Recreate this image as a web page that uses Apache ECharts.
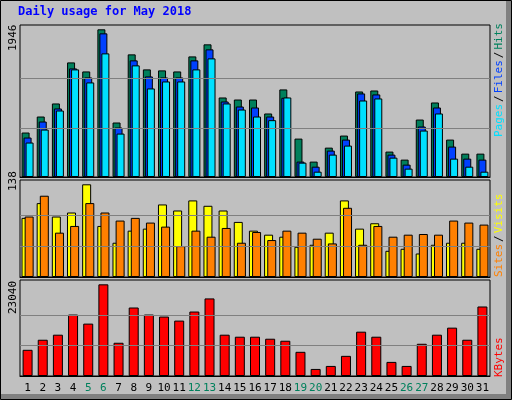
<!DOCTYPE html>
<html>
<head>
<meta charset="utf-8">
<script src="https://cdn.jsdelivr.net/npm/echarts@6/dist/echarts.min.js"></script>
<style>
  html, body { margin: 0; padding: 0; background: #c0c0c0; }
  #chart { width: 512px; height: 400px; }
</style>
</head>
<body>
<div id="chart"></div>
<script>
// days of the month, weekend days drawn green
var days = [];
for (var d = 1; d <= 31; d++) days.push(String(d));
var weekend = ['5', '6', '12', '13', '19', '20', '26', '27'];

var hits = [586, 797, 969, 1510, 1391, 1946, 718, 1616, 1418, 1405, 1391, 1589, 1748, 1048, 1021, 1021,
            837, 1154, 506, 203, 387, 546, 1127, 1140, 335, 229, 757, 982, 493, 308, 308];
var files = [520, 731, 903, 1431, 1312, 1893, 652, 1537, 1325, 1312, 1312, 1537, 1682, 995, 929, 916,
             797, 1044, 203, 136, 348, 493, 1101, 1088, 295, 163, 665, 916, 401, 242, 229];
var pages = [454, 625, 876, 1418, 1246, 1629, 572, 1471, 1167, 1259, 1259, 1418, 1563, 969, 889, 797,
             749, 1048, 189, 70, 295, 414, 1008, 1035, 255, 110, 612, 837, 242, 136, 70];
var visits = [88, 110, 90, 96, 138, 76, 51, 69, 72, 108, 99, 114, 106, 99, 82, 69,
              63, 60, 45, 48, 66, 114, 72, 80, 39, 42, 35, 48, 51, 51, 42];
var sites = [90, 121, 66, 76, 110, 96, 84, 88, 81, 75, 46, 69, 60, 73, 51, 67,
             55, 69, 66, 57, 50, 103, 48, 76, 60, 63, 64, 63, 84, 81, 78];
var kbytes = [6583, 9115, 10381, 15445, 13166, 23040, 8355, 17217, 15445, 14938, 13925, 16204, 19496, 10381, 9875, 9875,
              9368, 8862, 6077, 1772, 2532, 5064, 11140, 9875, 3545, 2532, 8102, 10381, 12153, 9115, 17470];

var maxHits = 1946, maxVisits = 138, maxKB = 23040;
var FONT = 'DejaVu Sans Mono';

function gridLines(max) {
    return {
        silent: true, symbol: 'none', label: { show: false },
        lineStyle: { color: '#808080', type: 'solid', width: 1 },
        data: [{ yAxis: max / 3 }, { yAxis: max * 2 / 3 }]
    };
}
function bar(name, data, color, xi, w, gap, extra) {
    var s = {
        name: name, type: 'bar', data: data, xAxisIndex: xi, yAxisIndex: xi,
        barWidth: w, barGap: gap, animation: false,
        itemStyle: { color: color, borderColor: '#000', borderWidth: 1 }
    };
    if (extra) s.markLine = extra;
    return s;
}

var chart = echarts.init(document.getElementById('chart'));
var xBase = { type: 'category', data: days, axisTick: { show: false },
              axisLine: { lineStyle: { color: '#000' } }, axisLabel: { show: false } };
var yBase = { type: 'value', min: 0, show: false, splitLine: { show: false } };

chart.setOption({
    backgroundColor: '#c0c0c0',
    grid: [
        { left: 20, right: 22, top: 25, height: 152, show: true, borderColor: '#000', backgroundColor: '#c0c0c0' },
        { left: 20, right: 22, top: 180, height: 97, show: true, borderColor: '#000', backgroundColor: '#c0c0c0' },
        { left: 20, right: 22, top: 280, height: 96, show: true, borderColor: '#000', backgroundColor: '#c0c0c0' }
    ],
    xAxis: [
        Object.assign({ gridIndex: 0 }, xBase),
        Object.assign({ gridIndex: 1 }, xBase),
        Object.assign({ gridIndex: 2 }, xBase, {
            axisLabel: {
                show: true, interval: 0, margin: 7, fontFamily: FONT, fontSize: 11,
                color: function (v) { return weekend.indexOf(v) >= 0 ? '#00805c' : '#000'; }
            }
        })
    ],
    yAxis: [
        Object.assign({ gridIndex: 0, max: 2003 }, yBase),
        Object.assign({ gridIndex: 1, max: 144.4 }, yBase),
        Object.assign({ gridIndex: 2, max: 24130 }, yBase)
    ],
    series: [
        bar('Hits', hits, '#00805c', 0, 8, '-75%', gridLines(maxHits)),
        bar('Files', files, '#0040ff', 0, 8, '-75%'),
        bar('Pages', pages, '#00e0ff', 0, 8, '-75%'),
        bar('Visits', visits, '#ffff00', 1, 9, '-65%', gridLines(maxVisits)),
        bar('Sites', sites, '#ff8000', 1, 9, '-65%'),
        bar('KBytes', kbytes, '#ff0000', 2, 10, '0%', gridLines(maxKB))
    ],
    graphic: [
        { type: 'rect', shape: { x: 0.5, y: 0.5, width: 511, height: 399 }, silent: true,
          style: { fill: 'none', stroke: '#000', lineWidth: 1 } },
        { type: 'rect', shape: { x: 1, y: 394, width: 510, height: 5 }, silent: true, style: { fill: '#808080' } },
        { type: 'rect', shape: { x: 506, y: 1, width: 5, height: 398 }, silent: true, style: { fill: '#808080' } },
        { type: 'text', left: 18, top: 6, style: { text: 'Daily usage for May 2018', fill: '#0000ff',
          font: 'bold 12px ' + FONT } },
        { type: 'text', x: 19, y: 51, rotation: Math.PI / 2, style: { text: String(maxHits), fill: '#000',
          font: '11px ' + FONT, verticalAlign: 'bottom' } },
        { type: 'text', x: 19, y: 191, rotation: Math.PI / 2, style: { text: String(maxVisits), fill: '#000',
          font: '11px ' + FONT, verticalAlign: 'bottom' } },
        { type: 'text', x: 19, y: 314, rotation: Math.PI / 2, style: { text: String(maxKB), fill: '#000',
          font: '11px ' + FONT, verticalAlign: 'bottom' } },
        { type: 'text', x: 505, y: 137, rotation: Math.PI / 2, style: {
          text: '{p|Pages}{s|/}{f|Files}{s|/}{h|Hits}', verticalAlign: 'bottom', font: '11px ' + FONT,
          rich: { p: { fill: '#00e0ff', font: '11px ' + FONT }, s: { fill: '#000', font: '11px ' + FONT, padding: [0, 2] },
                  f: { fill: '#0040ff', font: '11px ' + FONT }, h: { fill: '#00805c', font: '11px ' + FONT } } } },
        { type: 'text', x: 505, y: 277, rotation: Math.PI / 2, style: {
          text: '{a|Sites}{s|/}{b|Visits}', verticalAlign: 'bottom', font: '11px ' + FONT,
          rich: { a: { fill: '#ff8000', font: '11px ' + FONT }, s: { fill: '#000', font: '11px ' + FONT, padding: [0, 2] },
                  b: { fill: '#ffff00', font: '11px ' + FONT } } } },
        { type: 'text', x: 505, y: 377, rotation: Math.PI / 2, style: { text: 'KBytes', fill: '#ff0000',
          font: '11px ' + FONT, verticalAlign: 'bottom' } }
    ]
});
</script>
</body>
</html>
